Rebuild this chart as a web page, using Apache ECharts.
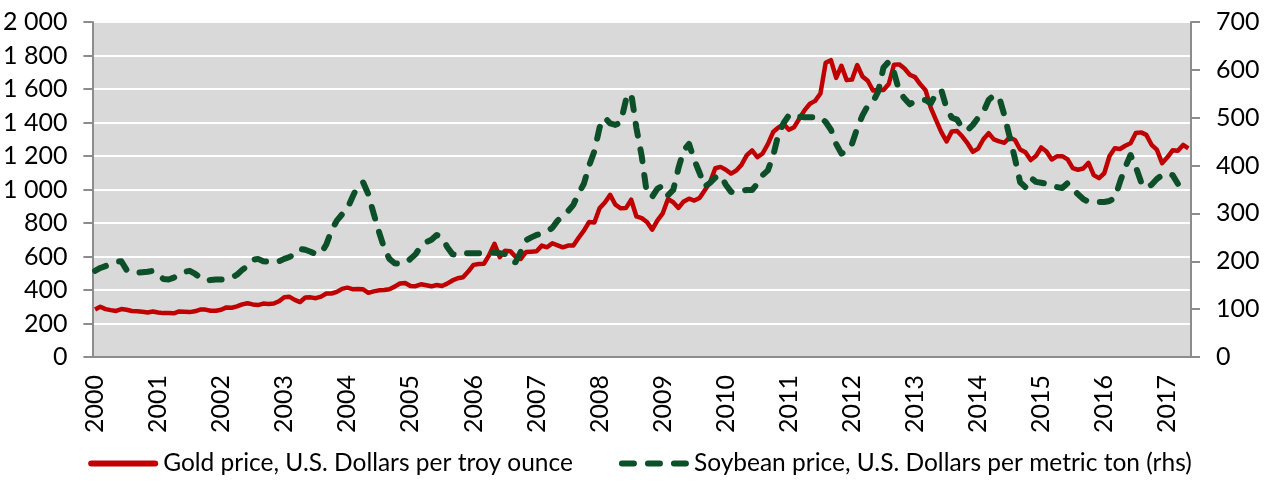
<!DOCTYPE html>
<html>
<head>
<meta charset="utf-8">
<script src="https://cdn.jsdelivr.net/npm/echarts@6/dist/echarts.min.js"></script>
<style>
  html, body { margin: 0; padding: 0; background: #fff; }
  #chart { width: 1280px; height: 488px; }
</style>
</head>
<body>
<div id="chart"></div>
<script>
// monthly, Jan 2000 - May 2017
var startYear = 2000;
var monthCount = 209;

// gold, USD per troy ounce (left axis)
var goldPrice = [
  284, 300, 286, 280, 275, 286, 282, 275, 273, 270, 266, 272,
  266, 262, 263, 261, 272, 270, 268, 273, 283, 283, 276, 276,
  282, 296, 294, 302, 314, 321, 314, 310, 319, 317, 319, 333,
  357, 359, 341, 328, 355, 356, 351, 360, 379, 379, 389, 407,
  414, 405, 406, 404, 383, 392, 398, 400, 405, 420, 439, 442,
  424, 423, 434, 428, 422, 430, 424, 438, 457, 470, 476, 510,
  550, 555, 557, 610, 676, 596, 634, 632, 598, 585, 627, 629,
  631, 665, 655, 679, 667, 655, 665, 665, 712, 754, 806, 803,
  889, 922, 968, 909, 888, 889, 939, 839, 829, 806, 760, 816,
  858, 943, 924, 890, 929, 945, 934, 949, 996, 1043, 1127, 1135,
  1118, 1095, 1113, 1148, 1205, 1233, 1193, 1215, 1271, 1343, 1370, 1391,
  1357, 1372, 1424, 1474, 1512, 1529, 1573, 1756, 1772, 1666, 1739, 1653,
  1656, 1743, 1675, 1649, 1591, 1596, 1594, 1630, 1745, 1747, 1722, 1685,
  1671, 1628, 1593, 1487, 1414, 1343, 1287, 1347, 1349, 1316, 1275, 1225,
  1244, 1300, 1336, 1299, 1287, 1279, 1311, 1296, 1239, 1222, 1176, 1200,
  1251, 1227, 1179, 1198, 1199, 1181, 1128, 1118, 1125, 1159, 1086, 1068,
  1097, 1200, 1246, 1242, 1261, 1276, 1337, 1341, 1326, 1267, 1238, 1157,
  1192, 1234, 1231, 1266, 1246
];

// soybean, USD per metric ton (right axis)
var soyPrice = [
  180, 186, 190, 194, 199, 200, 182, 176, 176, 177, 178, 180,
  172, 163, 162, 166, 172, 178, 180, 174, 166, 159, 161, 162,
  162, 163, 166, 172, 182, 190, 203, 205, 200, 199, 197, 200,
  205, 209, 215, 226, 224, 220, 215, 217, 235, 265, 285, 298,
  310, 335, 358, 365, 340, 300, 262, 228, 205, 196, 195, 196,
  205, 215, 232, 240, 245, 255, 250, 230, 215, 212, 216, 217,
  217, 217, 216, 217, 218, 217, 215, 200, 198, 220, 244, 250,
  255, 258, 262, 270, 285, 295, 305, 318, 342, 362, 400, 430,
  480, 500, 488, 485, 490, 537, 551, 478, 420, 340, 335, 352,
  358, 338, 349, 395, 432, 445, 412, 385, 356, 364, 375, 380,
  360, 345, 343, 347, 349, 349, 362, 380, 390, 420, 465, 489,
  505, 508, 502, 501, 501, 501, 501, 491, 475, 445, 425, 430,
  445, 478, 505, 525, 533, 555, 605, 617, 595, 555, 540, 528,
  535, 537, 537, 530, 550, 558, 520, 500, 496, 478, 474, 485,
  500, 512, 537, 547, 543, 505, 460, 415, 365, 355, 375, 366,
  364, 362, 356, 355, 353, 363, 352, 340, 330, 324, 324, 324,
  324, 326, 332, 366, 397, 422, 397, 366, 353, 360, 372, 380,
  384, 380, 362, null, null
];

var months = [];
for (var m = 0; m < monthCount; m++) {
  var yr = startYear + Math.floor(m / 12);
  var mo = (m % 12) + 1;
  months.push(yr + '-' + (mo < 10 ? '0' + mo : mo));
}

var goldName = 'Gold price, U.S. Dollars per troy ounce';
var soyName = 'Soybean price, U.S. Dollars per metric ton (rhs)';

var fontFam = 'Lato';
var axisGrey = '#8c8c8c';
var goldColor = '#c00000';
var soyColor = '#0d4f29';

// legend marks: a solid bar and three rounded dashes
var solidIcon = 'path://M3,0 L67,0 A3,3 0 0 1 67,6 L3,6 A3,3 0 0 1 3,0 Z';
var dashIcon = 'path://M3,0 L15,0 A3,3 0 0 1 15,6 L3,6 A3,3 0 0 1 3,0 Z' +
  'M29,0 L41,0 A3,3 0 0 1 41,6 L29,6 A3,3 0 0 1 29,0 Z' +
  'M55,0 L67,0 A3,3 0 0 1 67,6 L55,6 A3,3 0 0 1 55,0 Z';

function spaceThousands(v) {
  if (v < 1000) return String(v);
  var rest = String(v % 1000);
  while (rest.length < 3) rest = '0' + rest;
  return Math.floor(v / 1000) + ' ' + rest;
}

var myChart = echarts.init(document.getElementById('chart'));
var option = {
  animation: false,
  textStyle: { fontFamily: fontFam },
  grid: {
    left: 91,
    right: 89,
    top: 22,
    bottom: 131,
    show: true,
    backgroundColor: '#d9d9d9',
    borderWidth: 0
  },
  legend: {
    top: 446,
    left: 'center',
    itemWidth: 70,
    itemHeight: 6,
    itemGap: 46,
    textStyle: { fontSize: 24.5, color: '#000', fontFamily: fontFam },
    data: [
      { name: goldName, icon: solidIcon, itemStyle: { color: goldColor } },
      { name: soyName, icon: dashIcon, itemStyle: { color: soyColor } }
    ]
  },
  xAxis: {
    type: 'category',
    data: months,
    boundaryGap: true,
    axisLine: { lineStyle: { color: axisGrey, width: 2 } },
    axisTick: {
      interval: 0,
      length: 7,
      lineStyle: { color: axisGrey, width: 1.5 }
    },
    axisLabel: {
      interval: function (idx) { return idx % 12 === 0; },
      rotate: 90,
      margin: 18,
      fontSize: 25,
      color: '#000',
      formatter: function (val) { return val.slice(0, 4); }
    },
    splitLine: { show: false }
  },
  yAxis: [{
    type: 'value',
    min: 0,
    max: 2000,
    interval: 200,
    position: 'left',
    axisLine: { show: true, lineStyle: { color: axisGrey, width: 2 } },
    axisTick: { show: true, length: 9, lineStyle: { color: axisGrey, width: 2 } },
    axisLabel: {
      fontSize: 25,
      color: '#000',
      margin: 25,
      formatter: spaceThousands
    },
    splitLine: { lineStyle: { color: '#ffffff', width: 2 } }
  }, {
    type: 'value',
    min: 0,
    max: 700,
    interval: 100,
    position: 'right',
    axisLine: { show: true, lineStyle: { color: axisGrey, width: 2 } },
    axisTick: { show: true, length: 9, lineStyle: { color: axisGrey, width: 2 } },
    axisLabel: { fontSize: 25, color: '#000', margin: 25 },
    splitLine: { show: false }
  }],
  series: [{
    name: goldName,
    type: 'line',
    yAxisIndex: 0,
    data: goldPrice,
    symbol: 'none',
    color: goldColor,
    lineStyle: { color: goldColor, width: 4.5, join: 'round' }
  }, {
    name: soyName,
    type: 'line',
    yAxisIndex: 1,
    data: soyPrice,
    symbol: 'none',
    color: soyColor,
    lineStyle: {
      color: soyColor,
      width: 6,
      type: [12, 14],
      cap: 'round',
      join: 'round'
    }
  }]
};
myChart.setOption(option);
</script>
</body>
</html>
